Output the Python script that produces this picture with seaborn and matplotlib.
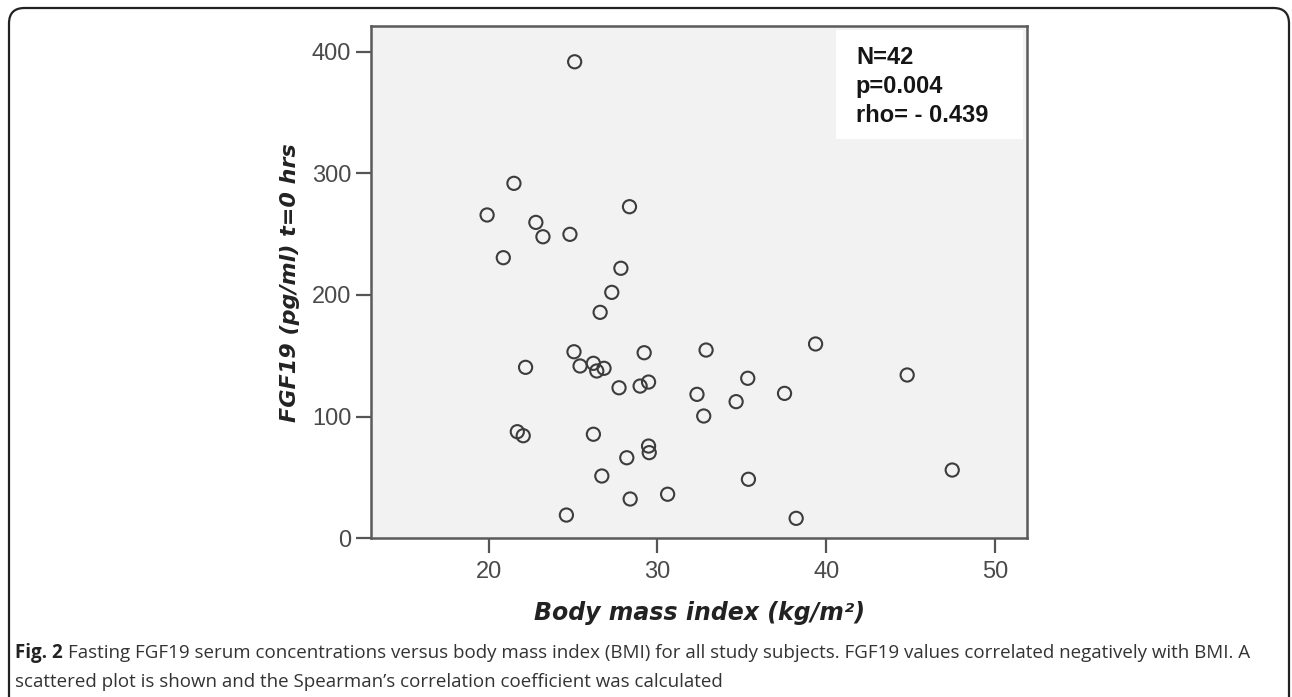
import matplotlib
matplotlib.use("Agg")
import matplotlib.pyplot as plt
from matplotlib.patches import FancyBboxPatch, Rectangle
import seaborn as sns
import pandas as pd

# ---- data ----
bmi = [25.09, 21.49, 19.90, 22.79, 23.21, 24.81, 28.34, 20.86, 27.83,
       27.29, 26.60, 25.05, 22.18, 25.41, 26.20, 26.40, 26.83, 27.72,
       29.21, 28.97, 29.47, 21.69, 22.04, 26.20, 29.47, 29.51, 28.18,
       26.70, 28.38, 30.60, 24.60,
       32.88, 39.37, 35.35, 32.34, 34.66, 32.74, 37.53, 44.80, 47.47,
       35.39, 38.22]
fgf19 = [391.6, 291.7, 265.7, 259.6, 247.8, 249.8, 272.5, 230.6, 221.9,
         202.1, 185.7, 153.3, 140.5, 141.6, 143.8, 137.5, 139.7, 123.7,
         152.5, 125.1, 128.4, 87.6, 84.3, 85.5, 75.8, 70.4, 66.2,
         51.2, 32.3, 36.2, 19.1,
         154.7, 159.7, 131.5, 118.3, 112.3, 100.5, 119.1, 134.2, 56.1,
         48.5, 16.4]
x_ticks = [20, 30, 40, 50]
y_ticks = [0, 100, 200, 300, 400]
stats_lines = ["N=42", "p=0.004", "rho= - 0.439"]
x_label = "Body mass index (kg/m\u00b2)"
y_label = "FGF19 (pg/ml) t=0 hrs"
caption_bold = "Fig. 2"
caption_line1 = ("Fasting FGF19 serum concentrations versus body mass index (BMI) "
                 "for all study subjects. FGF19 values correlated negatively with BMI. A")
caption_line2 = ("scattered plot is shown and the Spearman\u2019s correlation "
                 "coefficient was calculated")

df = pd.DataFrame({"bmi": bmi, "fgf19": fgf19})

sns.set_style("white")
plt.rcParams["font.family"] = ["Liberation Sans", "DejaVu Sans"]

W, H = 1292, 697
fig = plt.figure(figsize=(W / 100, H / 100), dpi=100)
fig.patch.set_facecolor("white")

# outer rounded frame
frame = FancyBboxPatch((9 / W, -30 / H), (1289 - 9) / W, (697 - 8 + 30) / H,
                       boxstyle="round,pad=0,rounding_size=0.012",
                       transform=fig.transFigure, facecolor="none",
                       edgecolor="#222222", linewidth=1.6, mutation_aspect=W / H)
fig.patches.append(frame)

ax = fig.add_axes([370.7 / W, (697 - 538.3) / H, (1027.3 - 370.7) / W, (538.3 - 26) / H])
ax.set_facecolor("#f2f2f2")

sns.scatterplot(data=df, x="bmi", y="fgf19", ax=ax, marker="o", s=90,
                facecolors="none", edgecolor="#3c3c3c", linewidth=1.5, zorder=3)

ax.set_xlim(13.0, 51.92)
ax.set_ylim(0, 421)
ax.set_xticks(x_ticks)
ax.set_yticks(y_ticks)

ax.tick_params(axis="both", which="major", direction="out", length=11, width=1.6,
               color="#555555", labelcolor="#4a4a4a", labelsize=17, pad=3,
               bottom=True, left=True, top=False, right=False)
ax.tick_params(axis="x", pad=5)

for sp in ax.spines.values():
    sp.set_color("#5a5a5a")
    sp.set_linewidth(1.8)
    sp.set_visible(True)

lab_font = ["DejaVu Sans"]
ax.set_xlabel(x_label, fontsize=17, fontweight="bold", fontstyle="italic",
              color="#222222", family=lab_font)
ax.set_ylabel(y_label, fontsize=16, fontweight="bold", fontstyle="italic",
              color="#222222", family=lab_font)
ax.xaxis.set_label_coords((699 - 370.7) / 656.6, (538.3 - 613) / 512.3)
ax.xaxis.label.set_va("center")
ax.yaxis.set_label_coords((290 - 370.7) / 656.6, 0.5)
ax.yaxis.label.set_va("center")

# stats box
ax.add_patch(Rectangle((0.7087, 0.7794), 0.9934 - 0.7087, 0.9922 - 0.7794,
                       transform=ax.transAxes, facecolor="white", edgecolor="none", zorder=4))
for i, line in enumerate(stats_lines):
    ax.text(0.739, (538.3 - (58 + 29 * i)) / 512.3, line, transform=ax.transAxes,
            fontsize=17, fontweight="bold", color="#151515", va="center", ha="left", zorder=5)

# caption
cap_font = ["Open Sans", "DejaVu Sans"]
y1 = (697 - 653) / H
y2 = (697 - 682) / H
t_b = fig.text(15 / W, y1, caption_bold, fontsize=13.5, fontweight="bold", family=cap_font,
               color="#222222", va="center", ha="left")
fig.canvas.draw()
bb = t_b.get_window_extent(renderer=fig.canvas.get_renderer())
fig.text((bb.x1 + 5) / W, y1, caption_line1, fontsize=13.5, family=cap_font,
         color="#333333", va="center", ha="left")
fig.text(15 / W, y2, caption_line2, fontsize=13.5, family=cap_font,
         color="#333333", va="center", ha="left")

fig.savefig("out.png", dpi=100)
